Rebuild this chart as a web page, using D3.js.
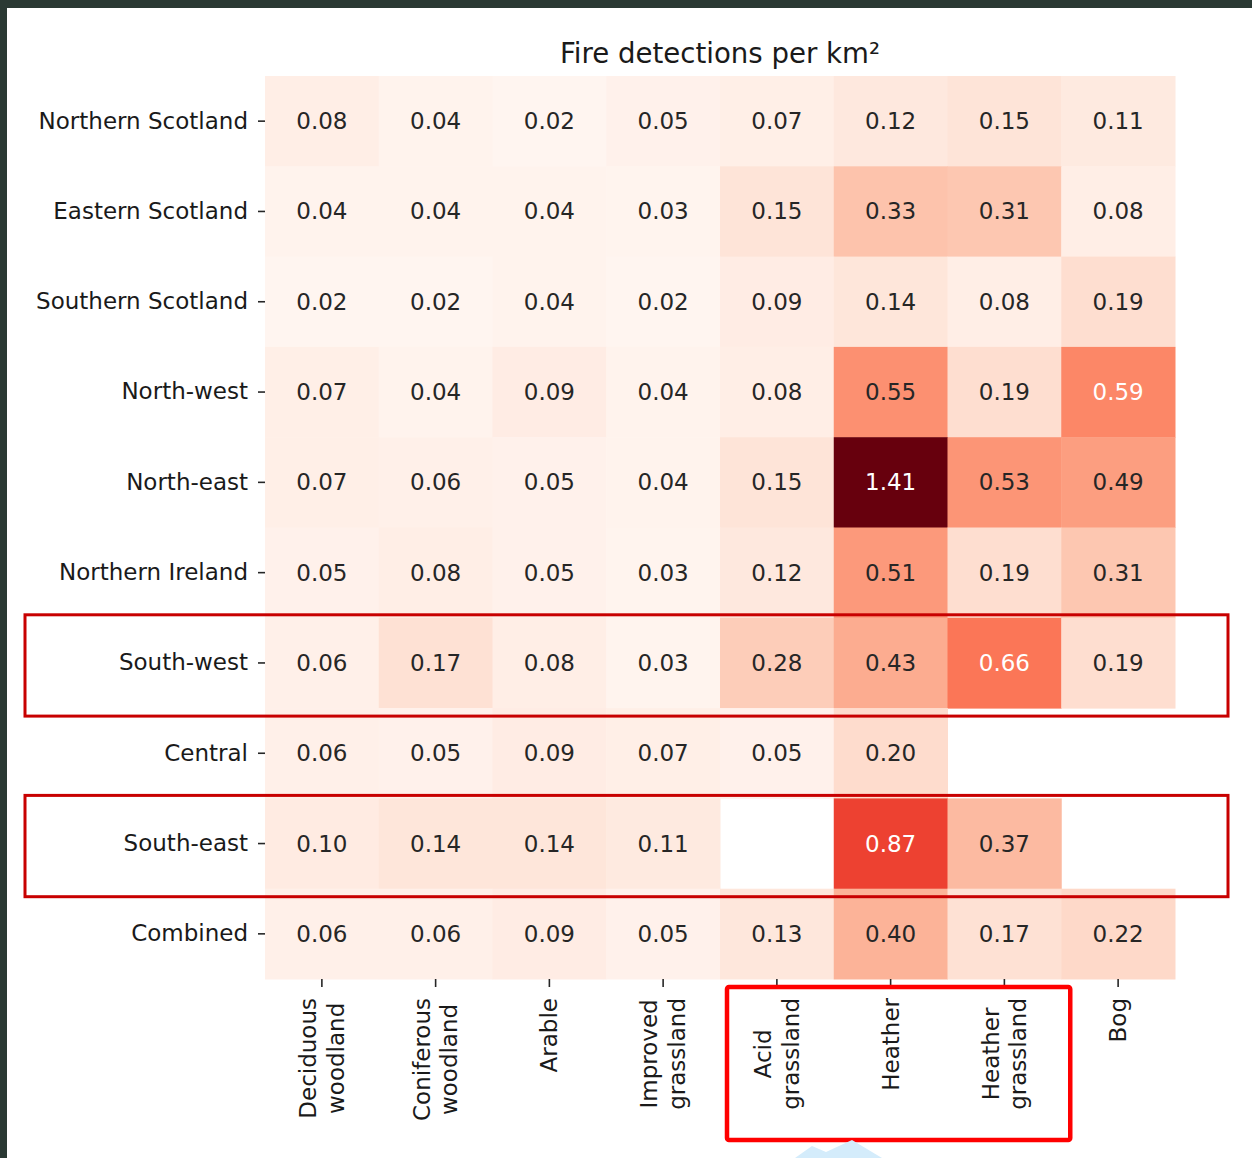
<!DOCTYPE html>
<html lang="en">
<head>
	<meta charset="UTF-8">
	<title>Fire detections per km2</title>
	<script src="https://d3js.org/d3.v7.min.js"></script>
	<style>
		body {
			margin: 0;
			background-color: #ffffff;
		}
		text {
			font-family: "DejaVu Sans", sans-serif;
		}
		.axis text {
			font-size: 23px;
			fill: #1a1a1a;
		}
		.axis line {
			stroke: #262626;
			stroke-width: 1.6;
		}
	</style>
</head>
<body>
<script type="text/javascript">
	// ---- data ----
	var regions = ['Northern Scotland', 'Eastern Scotland', 'Southern Scotland', 'North-west',
		'North-east', 'Northern Ireland', 'South-west', 'Central', 'South-east', 'Combined'];
	var landCovers = ['Deciduous\nwoodland', 'Coniferous\nwoodland', 'Arable', 'Improved\ngrassland',
		'Acid\ngrassland', 'Heather', 'Heather\ngrassland', 'Bog'];

	var northernScotland = [0.08, 0.04, 0.02, 0.05, 0.07, 0.12, 0.15, 0.11];
	var easternScotland  = [0.04, 0.04, 0.04, 0.03, 0.15, 0.33, 0.31, 0.08];
	var southernScotland = [0.02, 0.02, 0.04, 0.02, 0.09, 0.14, 0.08, 0.19];
	var northWest        = [0.07, 0.04, 0.09, 0.04, 0.08, 0.55, 0.19, 0.59];
	var northEast        = [0.07, 0.06, 0.05, 0.04, 0.15, 1.41, 0.53, 0.49];
	var northernIreland  = [0.05, 0.08, 0.05, 0.03, 0.12, 0.51, 0.19, 0.31];
	var southWest        = [0.06, 0.17, 0.08, 0.03, 0.28, 0.43, 0.66, 0.19];
	var central          = [0.06, 0.05, 0.09, 0.07, 0.05, 0.20, null, null];
	var southEast        = [0.10, 0.14, 0.14, 0.11, null, 0.87, 0.37, null];
	var combined         = [0.06, 0.06, 0.09, 0.05, 0.13, 0.40, 0.17, 0.22];

	var rowValues = [northernScotland, easternScotland, southernScotland, northWest, northEast,
		northernIreland, southWest, central, southEast, combined];

	// flat cell list
	var cells = [];
	rowValues.forEach(function (vals, i) {
		vals.forEach(function (v, j) {
			cells.push({region: regions[i], cover: landCovers[j], value: v});
		});
	});

	var W = 1252, H = 1158;
	var svg = d3.select('body').append('svg')
		.attr('width', W)
		.attr('height', H);

	// dark frame of the screenshot
	svg.append('rect').attr('x', 0).attr('y', 0).attr('width', W).attr('height', 8).attr('fill', '#2a3933');
	svg.append('rect').attr('x', 0).attr('y', 0).attr('width', 7).attr('height', H).attr('fill', '#2a3933');

	//----scales----//
	var x = d3.scaleBand().domain(landCovers).range([265, 1175]);
	var y = d3.scaleBand().domain(regions).range([76, 979]);

	var allVals = cells.filter(function (d) { return d.value !== null; }).map(function (d) { return d.value; });
	var color = d3.scaleSequential(d3.interpolateReds)
		.domain([d3.min(allVals), d3.max(allVals)]);

	function luminance(c) {
		var rgb = d3.rgb(c);
		var ch = [rgb.r, rgb.g, rgb.b].map(function (v) {
			v = v / 255;
			return v <= 0.03928 ? v / 12.92 : Math.pow((v + 0.055) / 1.055, 2.4);
		});
		return 0.2126 * ch[0] + 0.7152 * ch[1] + 0.0722 * ch[2];
	}

	var filled = cells.filter(function (d) { return d.value !== null; });

	svg.selectAll('.cell')
		.data(filled)
		.enter().append('rect')
		.attr('class', 'cell')
		.attr('x', function (d) { return x(d.cover); })
		.attr('y', function (d) { return y(d.region); })
		.attr('width', x.bandwidth() + 0.5)
		.attr('height', y.bandwidth() + 0.5)
		.attr('fill', function (d) { return color(d.value); });

	svg.selectAll('.val')
		.data(filled)
		.enter().append('text')
		.attr('class', 'val')
		.attr('x', function (d) { return x(d.cover) + x.bandwidth() / 2; })
		.attr('y', function (d) { return y(d.region) + y.bandwidth() / 2; })
		.attr('text-anchor', 'middle')
		.attr('dominant-baseline', 'central')
		.style('font-size', '23px')
		.attr('fill', function (d) { return luminance(color(d.value)) > 0.408 ? '#262626' : '#ffffff'; })
		.text(function (d) { return d.value.toFixed(2); });

	//----axes----//
	svg.append('g')
		.attr('class', 'axis axis--y')
		.attr('transform', 'translate(265,0)')
		.call(d3.axisLeft(y).tickSize(7).tickPadding(10))
		.call(function (g) { g.select('.domain').remove(); });

	var xAxis = svg.append('g')
		.attr('class', 'axis axis--x')
		.attr('transform', 'translate(0,979)')
		.call(d3.axisBottom(x).tickSize(8).tickFormat(''))
		.call(function (g) { g.select('.domain').remove(); });

	// rotated, multi-line column labels (lines centred on each other)
	xAxis.selectAll('.tick').each(function (d) {
		var tick = d3.select(this);
		var lines = d.split('\n');
		var lh = 27.6;
		var texts = lines.map(function (line, k) {
			return tick.append('text')
				.attr('text-anchor', 'middle')
				.attr('dominant-baseline', 'central')
				.attr('fill', '#1a1a1a')
				.text(line);
		});
		var maxLen = d3.max(texts, function (t) { return t.node().getComputedTextLength(); });
		texts.forEach(function (t, k) {
			var dx = (k - (lines.length - 1) / 2) * lh;
			t.attr('transform', 'translate(' + dx + ',' + (19 + maxLen / 2) + ') rotate(-90)');
		});
	});

	// title
	svg.append('text')
		.attr('x', (x.range()[0] + x.range()[1]) / 2)
		.attr('y', 63)
		.attr('text-anchor', 'middle')
		.style('font-size', '27.6px')
		.attr('fill', '#1a1a1a')
		.text('Fire detections per km²');

	//----highlight boxes----//
	var rowBox = ['South-west', 'South-east'];
	svg.selectAll('.rowbox')
		.data(rowBox)
		.enter().append('rect')
		.attr('class', 'rowbox')
		.attr('x', 25)
		.attr('y', function (d) { return y(d) - 3; })
		.attr('width', 1203)
		.attr('height', y.bandwidth() + 11)
		.attr('fill', 'none')
		.attr('stroke', '#c80000')
		.attr('stroke-width', 3);

	var colBox = ['Acid\ngrassland', 'Heather\ngrassland'];
	svg.append('rect')
		.attr('x', x(colBox[0]) + 7)
		.attr('y', 987)
		.attr('width', x(colBox[1]) + x.bandwidth() - x(colBox[0]) + 2)
		.attr('height', 153)
		.attr('rx', 2)
		.attr('fill', 'none')
		.attr('stroke', '#ff0000')
		.attr('stroke-width', 4.5);

	// faint watermark at the bottom edge
	svg.append('path')
		.attr('d', 'M795,1158 L812,1146 L826,1152 L852,1140 L882,1158 Z')
		.attr('fill', '#d4ecfb');
</script>
</body>
</html>
